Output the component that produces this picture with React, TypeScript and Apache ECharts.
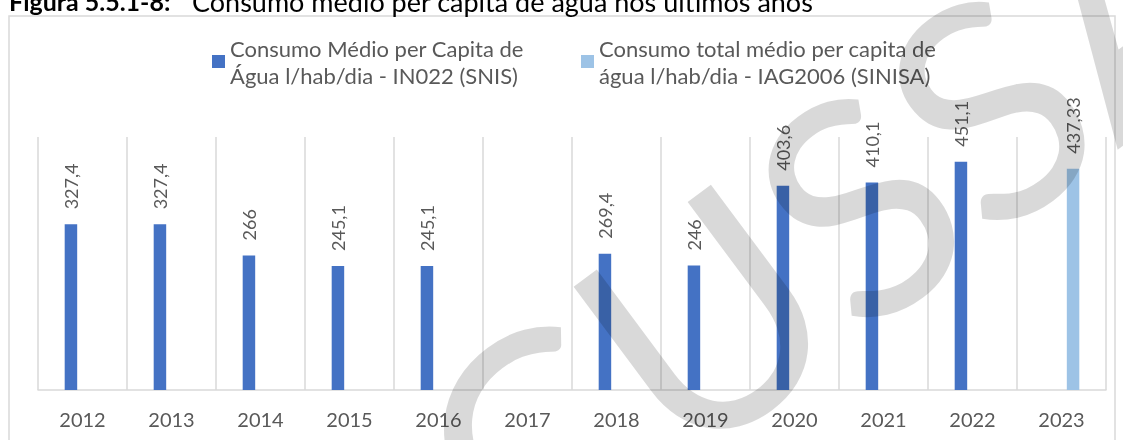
import React, { useEffect, useRef } from 'react';
import * as echarts from 'echarts';

const categories = ['2012', '2013', '2014', '2015', '2016', '2017', '2018', '2019', '2020', '2021', '2022', '2023'];
const snisValues: (number | null)[] = [327.4, 327.4, 266, 245.1, 245.1, null, 269.4, 246, 403.6, 410.1, 451.1, null];
const sinisaValues: (number | null)[] = [null, null, null, null, null, null, null, null, null, null, null, 437.33];
const seriesNames = [
  'Consumo Médio per Capita de\nÁgua l/hab/dia - IN022 (SNIS)',
  'Consumo total médio per capita de\nágua l/hab/dia - IAG2006 (SINISA)',
];
const titleBold = 'Figura 5.5.1-8:';
const titleRest = 'Consumo médio per capita de água nos últimos anos';
const watermarkText = 'DISCUSSÃO';

const FONT = 'Lato, "Noto Sans", sans-serif';
const TXT = '#595959';

export default function App() {
  const ref = useRef<HTMLDivElement>(null);
  useEffect(() => {
    if (!ref.current) return;
    const chart = echarts.init(ref.current, undefined, { renderer: 'svg' });
    const label = {
      show: true,
      position: 'top',
      rotate: 90,
      align: 'left',
      verticalAlign: 'middle',
      distance: 15,
      color: TXT,
      fontFamily: FONT,
      fontSize: 18,
      formatter: (p: any) => String(p.value).replace('.', ','),
    };
    const legendBase = {
      top: 21,
      padding: 0,
      itemWidth: 13,
      itemHeight: 13,
      icon: 'rect',
      selectedMode: false,
      textStyle: { color: TXT, fontFamily: FONT, fontSize: 22, lineHeight: 27, padding: [27, 0, 0, 0] },
    };
    chart.setOption({
      animation: false,
      grid: { left: 38, right: 17, top: 137, bottom: 50 },
      legend: [
        { ...legendBase, data: [seriesNames[0]], left: 212 },
        { ...legendBase, data: [seriesNames[1]], left: 581 },
      ],
      xAxis: {
        type: 'category',
        data: categories,
        axisLine: { lineStyle: { color: '#d9d9d9', width: 1.5 } },
        axisTick: { show: false },
        splitLine: { show: true, lineStyle: { color: '#d9d9d9', width: 1.5 } },
        axisLabel: { color: TXT, fontFamily: FONT, fontSize: 20, margin: 19 },
      },
      yAxis: { type: 'value', min: 0, max: 500, show: false },
      series: [
        {
          name: seriesNames[0],
          type: 'bar',
          data: snisValues,
          barWidth: 12.5,
          barGap: '85%',
          itemStyle: { color: '#4472C4' },
          label,
        },
        {
          name: seriesNames[1],
          type: 'bar',
          data: sinisaValues,
          barWidth: 12.5,
          barGap: '85%',
          itemStyle: { color: '#9DC3E6' },
          label,
        },
      ],
      graphic: [
        {
          type: 'rect',
          silent: true,
          z: -10,
          shape: { x: 9, y: 16, width: 1106, height: 500 },
          style: { fill: 'none', stroke: '#d9d9d9', lineWidth: 1.5 },
        },
        {
          type: 'text',
          x: 9,
          y: 1,
          silent: true,
          style: { text: titleBold, font: `bold 25px ${FONT}`, fill: '#000', verticalAlign: 'middle' },
        },
        {
          type: 'text',
          x: 192,
          y: 1,
          silent: true,
          style: { text: titleRest, font: `27px ${FONT}`, fill: '#000', verticalAlign: 'middle' },
        },
        {
          type: 'text',
          x: 735,
          y: 290,
          rotation: 0.64,
          silent: true,
          z: 100,
          style: {
            text: watermarkText,
            font: `300px ${FONT}`,
            fill: 'rgba(0,0,0,0.15)',
            align: 'center',
            verticalAlign: 'middle',
          },
        },
      ],
    });
    return () => chart.dispose();
  }, []);
  return <div ref={ref} style={{ position: 'fixed', left: 0, top: 0, width: 1123, height: 440 }} />;
}
